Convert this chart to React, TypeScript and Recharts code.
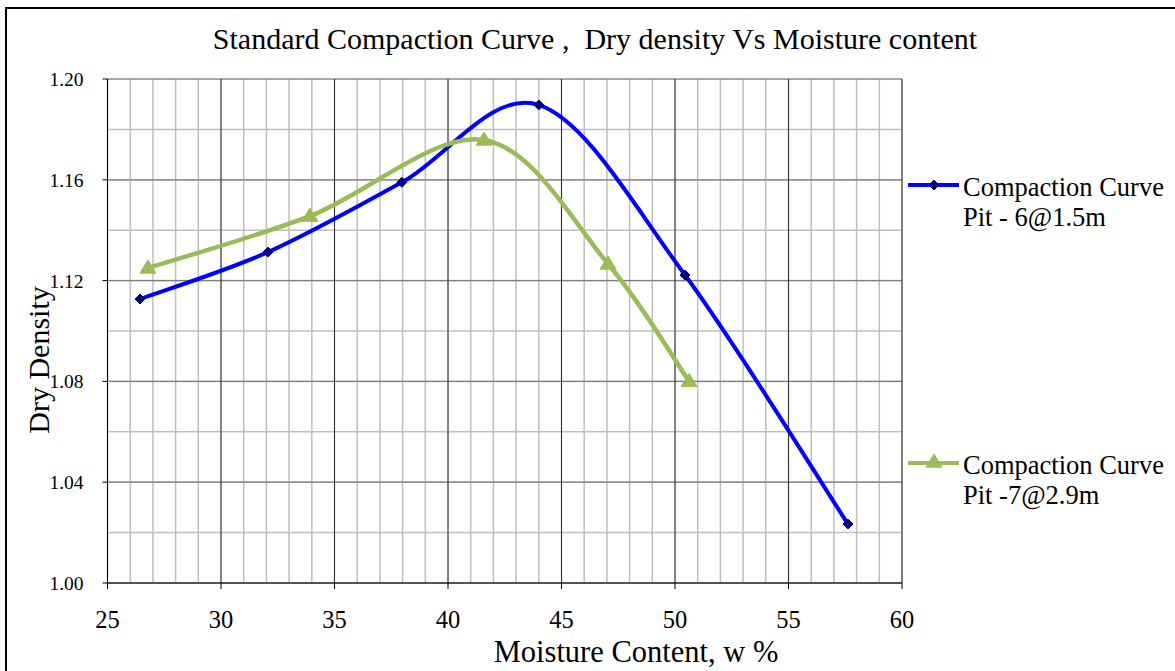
import React from 'react';
import { LineChart, Line, XAxis, YAxis, CartesianGrid } from 'recharts';

const pit6Moisture = [26.43, 32.07, 37.97, 44.0, 50.44, 57.62];
const pit6Density = [1.1127, 1.1313, 1.159, 1.1897, 1.1222, 1.0234];
const pit7Moisture = [26.78, 33.92, 41.59, 47.05, 50.62];
const pit7Density = [1.125, 1.1456, 1.1758, 1.1266, 1.08];

const xMajorTicks = [25, 30, 35, 40, 45, 50, 55, 60];
const xMinorTicks = Array.from({ length: 36 }, (_, i) => 25 + i);
const yMajorTicks = [1.0, 1.04, 1.08, 1.12, 1.16, 1.2];
const yMinorTicks = [1.0, 1.02, 1.04, 1.06, 1.08, 1.1, 1.12, 1.14, 1.16, 1.18, 1.2];

const seriesNames = ['Compaction Curve\nPit - 6@1.5m', 'Compaction Curve\nPit -7@2.9m'];
const titleText = 'Standard Compaction Curve ,  Dry density Vs Moisture content';
const xLabel = 'Moisture Content, w %';
const yLabel = 'Dry Density';

const pit6 = pit6Moisture.map((x, i) => ({ x, y: pit6Density[i] }));
const pit7 = pit7Moisture.map((x, i) => ({ x, y: pit7Density[i] }));

const FONT = '"Liberation Serif", "Times New Roman", serif';
const BLUE = '#0000FF';
const NAVY = '#000080';
const GREEN = '#9BBB59';

// Excel-like smooth curve (Catmull-Rom style cubic Bezier)
function smoothCurve(context: any) {
  let pts: number[][] = [];
  return {
    areaStart() {},
    areaEnd() {},
    lineStart() {
      pts = [];
    },
    lineEnd() {
      if (!pts.length) return;
      context.moveTo(pts[0][0], pts[0][1]);
      const t = 1 / 6;
      for (let i = 0; i < pts.length - 1; i++) {
        const p0 = pts[i - 1] || pts[i];
        const p1 = pts[i];
        const p2 = pts[i + 1];
        const p3 = pts[i + 2] || pts[i + 1];
        context.bezierCurveTo(
          p1[0] + (p2[0] - p0[0]) * t,
          p1[1] + (p2[1] - p0[1]) * t,
          p2[0] - (p3[0] - p1[0]) * t,
          p2[1] - (p3[1] - p1[1]) * t,
          p2[0],
          p2[1]
        );
      }
    },
    point(x: number, y: number) {
      pts.push([+x, +y]);
    },
  };
}

const Diamond = (props: any) => {
  const { cx, cy } = props;
  if (cx == null || cy == null) return null;
  const s = 5;
  return (
    <path
      d={`M${cx},${cy - s}L${cx + s},${cy}L${cx},${cy + s}L${cx - s},${cy}Z`}
      fill={NAVY}
      stroke={NAVY}
      strokeWidth={1}
    />
  );
};

const Triangle = (props: any) => {
  const { cx, cy } = props;
  if (cx == null || cy == null) return null;
  const s = 8;
  return (
    <path
      d={`M${cx},${cy - s}L${cx + s},${cy + s * 0.65}L${cx - s},${cy + s * 0.65}Z`}
      fill={GREEN}
      stroke={GREEN}
      strokeWidth={1}
    />
  );
};

const LegendItem = ({ top, color, kind, text }: any) => (
  <div style={{ position: 'absolute', left: 906, top, width: 269 }}>
    <svg width={56} height={24} style={{ position: 'absolute', left: 0, top: 0 }}>
      <line x1={2} y1={12} x2={53} y2={12} stroke={color} strokeWidth={4} />
      {kind === 'diamond' ? <Diamond cx={28} cy={12} /> : <Triangle cx={28} cy={11} />}
    </svg>
    <div
      style={{
        position: 'absolute',
        left: 57,
        top: -1,
        fontFamily: FONT,
        fontSize: 26.5,
        lineHeight: '30px',
        whiteSpace: 'pre',
        color: '#000',
      }}
    >
      {text}
    </div>
  </div>
);

export default function App() {
  return (
    <div
      style={{
        position: 'absolute',
        left: 0,
        top: 0,
        width: 1175,
        height: 671,
        background: '#fff',
        overflow: 'hidden',
      }}
    >
      <div
        style={{
          position: 'absolute',
          left: 5,
          top: 7,
          width: 1200,
          height: 700,
          border: '2px solid #000',
          boxSizing: 'border-box',
        }}
      />
      <div
        style={{
          position: 'absolute',
          left: 0,
          top: 21,
          width: 1190,
          textAlign: 'center',
          fontFamily: FONT,
          fontSize: 30,
          lineHeight: '36px',
          whiteSpace: 'pre',
          color: '#000',
        }}
      >
        {titleText}
      </div>
      <div style={{ position: 'absolute', left: 0, top: 0 }}>
        <LineChart
          width={1175}
          height={671}
          margin={{ top: 79, right: 273, bottom: 58, left: 47.5 }}
        >
          <XAxis dataKey="x" type="number" xAxisId="minor" domain={[25, 60]} ticks={xMinorTicks} hide allowDataOverflow />
          <YAxis dataKey="y" type="number" yAxisId="minor" domain={[1, 1.2]} ticks={yMinorTicks} hide allowDataOverflow />
          <XAxis dataKey="x" type="number" xAxisId="major" domain={[25, 60]} ticks={xMajorTicks} hide allowDataOverflow />
          <YAxis dataKey="y" type="number" yAxisId="major" domain={[1, 1.2]} ticks={yMajorTicks} hide allowDataOverflow />
          <CartesianGrid xAxisId="minor" yAxisId="minor" stroke="#BFBFBF" strokeWidth={1.5} />
          <CartesianGrid xAxisId="major" yAxisId="major" vertical={false} stroke="#7F7F7F" strokeWidth={1.2} />
          <CartesianGrid xAxisId="major" yAxisId="major" horizontal={false} stroke="#333" strokeWidth={1} />
          <XAxis
            dataKey="x"
            type="number"
            domain={[25, 60]}
            ticks={xMajorTicks}
            allowDataOverflow
            height={30}
            stroke="#000"
            tickSize={6}
            tickMargin={22}
            tick={{ fill: '#000', fontFamily: FONT, fontSize: 24.5 }}
            tickLine={{ stroke: '#000' }}
          />
          <YAxis
            dataKey="y"
            type="number"
            domain={[1, 1.2]}
            ticks={yMajorTicks}
            allowDataOverflow
            width={60}
            stroke="#000"
            tickSize={5}
            tickMargin={19}
            tickFormatter={(v: number) => v.toFixed(2)}
            tick={{ fill: '#000', fontFamily: FONT, fontSize: 19.5 }}
            tickLine={{ stroke: '#000' }}
          />
          <Line
            data={pit6}
            dataKey="y"
            name="Pit 6"
            type={smoothCurve as any}
            stroke={BLUE}
            strokeWidth={4}
            dot={<Diamond />}
            activeDot={false}
            isAnimationActive={false}
          />
          <Line
            data={pit7}
            dataKey="y"
            name="Pit 7"
            type={smoothCurve as any}
            stroke={GREEN}
            strokeWidth={4.5}
            dot={<Triangle />}
            activeDot={false}
            isAnimationActive={false}
          />
        </LineChart>
      </div>
      <div
        style={{
          position: 'absolute',
          left: 436,
          top: 637,
          width: 400,
          textAlign: 'center',
          fontFamily: FONT,
          fontSize: 30.5,
          lineHeight: '30px',
          whiteSpace: 'pre',
          color: '#000',
        }}
      >
        {xLabel}
      </div>
      <div
        style={{
          position: 'absolute',
          left: 39,
          top: 360,
          transform: 'translate(-50%, -50%) rotate(-90deg)',
          fontFamily: FONT,
          fontSize: 30,
          lineHeight: '34px',
          whiteSpace: 'pre',
          color: '#000',
        }}
      >
        {yLabel}
      </div>
      <LegendItem top={173} color={BLUE} kind="diamond" text={seriesNames[0]} />
      <LegendItem top={451} color={GREEN} kind="triangle" text={seriesNames[1]} />
    </div>
  );
}
